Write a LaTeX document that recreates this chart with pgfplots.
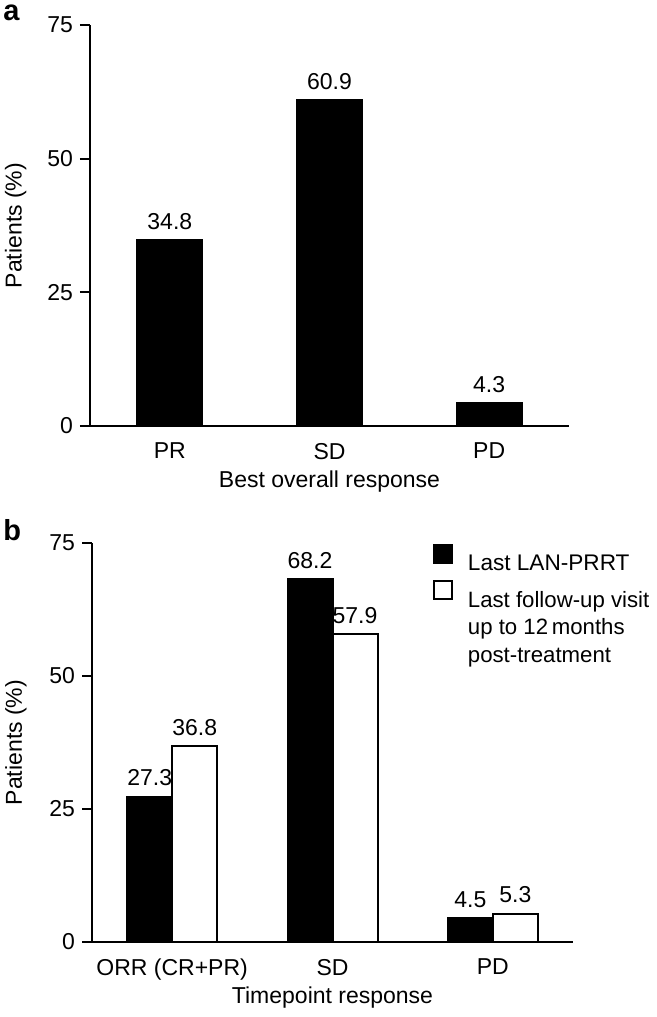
\documentclass[border=0pt]{standalone}
\usepackage{pgfplots}
\pgfplotsset{compat=1.18}
\usepackage{fontspec}
\setmainfont{Liberation Sans}
\newcommand{\fs}{\fontsize{11.5}{13.8}\selectfont}
\pgfplotsset{
  panel/.style={
    scale only axis,
    axis x line*=bottom,
    axis y line*=left,
    axis line style={line width=1pt, black},
    ymin=0, ymax=75, ytick={0,25,50,75},
    xmin=-0.5, xmax=2.5, xtick={0,1,2},
    x tick style={draw=none},
    y tick style={line width=1pt, black},
    tick align=outside,
    major tick length=5pt,
    tick label style={font=\fs},
    x tick label style={yshift=0pt},
    /pgf/number format/assume math mode=true,
    label style={font=\fs},
    ylabel={Patients (\%)},
    nodes near coords,
    every node near coord/.append style={font=\fs, anchor=south, yshift=1.5pt,
      /pgf/number format/fixed, /pgf/number format/fixed zerofill,
      /pgf/number format/precision=1, /pgf/number format/assume math mode=true},
  },
}
\begin{document}
\begin{tikzpicture}
\useasboundingbox (0,0) rectangle (328.5pt,-508.5pt);
\node[anchor=north west, inner sep=0pt, font=\fontsize{14.5}{15}\selectfont\bfseries] at (1.5pt,-2pt) {a};
\node[anchor=north west, inner sep=0pt, font=\fontsize{14.5}{15}\selectfont\bfseries] at (1.5pt,-259.5pt) {b};
% Panel a
\begin{axis}[panel,
  at={(45pt,-213pt)}, anchor=south west,
  width=239.5pt, height=200.5pt,
  xticklabels={PR,SD,PD},
  xlabel={Best overall response},
  xlabel style={at={(axis description cs:0.5,-0.138)}, anchor=center},
  ylabel style={at={(axis description cs:-0.155,0.5)}, anchor=center},
  ybar, bar width=32.5pt,
]
\addplot[fill=black, draw=black, line width=1pt] coordinates {(0,34.8) (1,60.9) (2,4.3)};
\end{axis}
% Panel b
\begin{axis}[panel,
  at={(46pt,-471pt)}, anchor=south west,
  width=240.5pt, height=199.5pt,
  xticklabels={ORR (CR+PR),SD,PD},
  xlabel={Timepoint response},
  xlabel style={at={(axis description cs:0.5,-0.14)}, anchor=center},
  ylabel style={at={(axis description cs:-0.158,0.5)}, anchor=center},
  ybar=0pt, bar width=22.5pt,
  legend style={draw=none, fill=none, at={(0.708,0.998)}, anchor=north west,
    font=\fontsize{11.3}{13.3}\selectfont, cells={anchor=west}, row sep=1.5pt, column sep=5.5pt, inner sep=0pt},
]
\addplot[fill=black, draw=black, line width=1pt,
  legend image code/.code={\draw[fill=black, draw=black, line width=1pt] (0.5pt,0.5pt) rectangle (9.5pt,9.5pt);}]
  coordinates {(0,27.3) (1,68.2) (2,4.5)};
\addlegendentry{Last LAN-PRRT}
\addplot[fill=white, draw=black, line width=1pt,
  legend image code/.code={\draw[fill=white, draw=black, line width=1pt] (0.5pt,0.5pt) rectangle (9.5pt,9.5pt);}]
  coordinates {(0,36.8) (1,57.9) (2,5.3)};
\addlegendentry{\parbox[t]{4cm}{\fontsize{11.1}{13.75}\selectfont Last follow-up visit\\up to 12\,months\\post-treatment}}
\end{axis}
\end{tikzpicture}
\end{document}
